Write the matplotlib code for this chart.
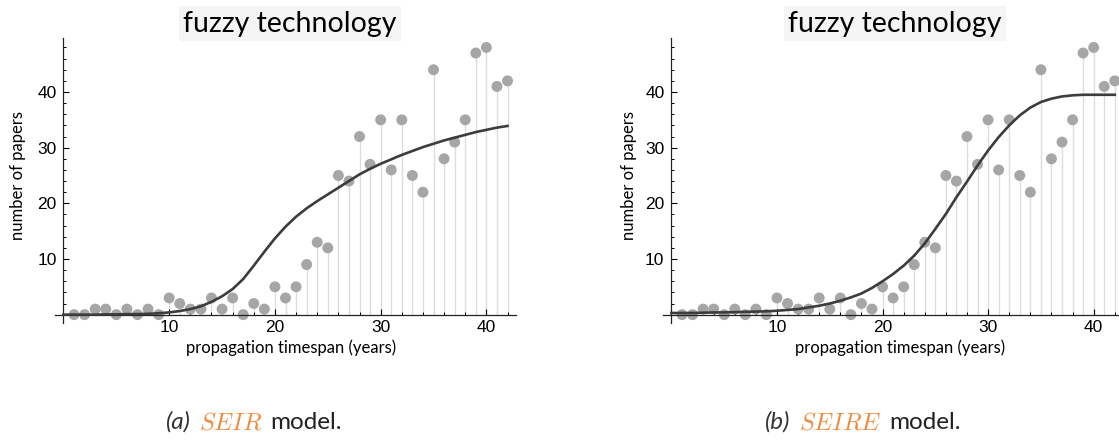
import numpy as np
import matplotlib
matplotlib.use("Agg")
import matplotlib.pyplot as plt
from matplotlib.ticker import MultipleLocator, FixedLocator

plt.rcParams['mathtext.fontset'] = 'cm'

# observed papers per year
years = list(range(1, 43))
papers = [0, 0, 1, 1, 0, 1, 0, 1, 0, 3, 2, 1, 1, 3, 1, 3, 0, 2, 1, 5,
          3, 5, 9, 13, 12, 25, 24, 32, 27, 35, 26, 35, 25, 22, 44, 28, 31, 35, 47, 48,
          41, 42]

# fitted model curves, read at whole years
curve_years = list(range(0, 43))
seir_fit = [0, 0, 0, 0, 0.05, 0.05, 0.1, 0.1, 0.15, 0.25, 0.4, 0.65, 1.0, 1.5, 2.3,
            3.3, 4.6, 6.4, 8.8, 11.3, 13.7, 15.8, 17.6, 19.1, 20.4, 21.6, 22.8, 24.0,
            25.2, 26.2, 27.1, 27.9, 28.7, 29.4, 30.1, 30.7, 31.3, 31.8, 32.3, 32.8,
            33.2, 33.6, 33.9]
seire_fit = [0.3, 0.3, 0.3, 0.35, 0.4, 0.4, 0.45, 0.5, 0.55, 0.6, 0.7, 0.85, 1.0,
             1.3, 1.6, 2.0, 2.5, 3.1, 3.8, 4.8, 6.0, 7.3, 8.8, 10.6, 12.8, 15.4, 18.1,
             21.1, 23.9, 26.8, 29.5, 31.9, 34.0, 35.8, 37.2, 38.2, 38.8, 39.2, 39.4,
             39.5, 39.5, 39.5, 39.5]

title = "fuzzy technology"
captions = [("(a)", "SEIR"), ("(b)", "SEIRE")]

fig = plt.figure(figsize=(11.19, 4.42), dpi=100)
W, H = 1119, 442
panels = [
    (fig.add_axes([55 / W, 119 / H, 461 / W, 285 / H]), seir_fit, 42.8, 0.512, -0.080, 0.51),
    (fig.add_axes([663 / W, 119 / H, 456 / W, 285 / H]), seire_fit, 42.4, 0.52, -0.075, 0.509),
]

for ax, fit, xmax, xl_x, yl_x, t_x in panels:
    ax.vlines(years, 0, papers, color='#dcdcdc', lw=1, zorder=1)
    ax.scatter(years, papers, s=62, color='#a6a6a6', zorder=2, clip_on=False,
               edgecolors='none')
    ax.plot(curve_years, fit, color='#3c3c3c', lw=1.9, zorder=3, clip_on=False,
            solid_joinstyle='round')

    ax.set_xlim(-0.8, xmax)
    ax.set_ylim(-1.5, 49.7)
    ax.spines['left'].set_position(('data', 0))
    ax.spines['bottom'].set_position(('data', 0))
    ax.spines['top'].set_visible(False)
    ax.spines['right'].set_visible(False)
    for s in ('left', 'bottom'):
        ax.spines[s].set_linewidth(0.9)
        ax.spines[s].set_color('#222222')
    ax.xaxis.set_major_locator(FixedLocator([10, 20, 30, 40]))
    ax.yaxis.set_major_locator(FixedLocator([10, 20, 30, 40]))
    ax.xaxis.set_minor_locator(MultipleLocator(2))
    ax.yaxis.set_minor_locator(MultipleLocator(2))
    ax.tick_params(which='major', direction='in', length=4.5, width=0.8,
                   labelsize=12.5, pad=4)
    ax.tick_params(which='minor', direction='in', length=2.5, width=0.7)
    ax.tick_params(axis='y', which='major', pad=5)
    for lab in ax.get_xticklabels() + ax.get_yticklabels():
        lab.set_fontfamily('Liberation Sans')

    ax.text(xl_x, -0.088, "propagation timespan (years)", transform=ax.transAxes,
            ha='center', va='center', fontsize=12, family='Lato')
    ax.text(yl_x, 0.516, "number of papers", transform=ax.transAxes, rotation=90,
            ha='center', va='center', fontsize=12, family='Lato')
    ax.text(t_x, 1.05, title, transform=ax.transAxes, ha='center', va='center',
            fontsize=20.5, family='Lato',
            bbox=dict(facecolor='#f5f5f5', edgecolor='none', pad=3))

# captions below each panel
fig.canvas.draw()
renderer = fig.canvas.get_renderer()
for (tag, model), cx in zip(captions, [254, 863]):
    parts = [
        (tag, dict(family='Lato', style='italic', color='#333333')),
        ("$" + model + "$", dict(color='#f08a3c')),
        ("model.", dict(family='Lato', color='#222222')),
    ]
    texts = []
    for s, kw in parts:
        t = fig.text(0, 0.045, s, fontsize=17.5, va='center', ha='left', **kw)
        texts.append(t)
    widths = [t.get_window_extent(renderer).width for t in texts]
    gap = 8
    total = sum(widths) + gap * (len(widths) - 1)
    x = cx - total / 2
    for t, w in zip(texts, widths):
        t.set_x(x / W)
        x += w + gap

fig.savefig("out.png", dpi=100)
